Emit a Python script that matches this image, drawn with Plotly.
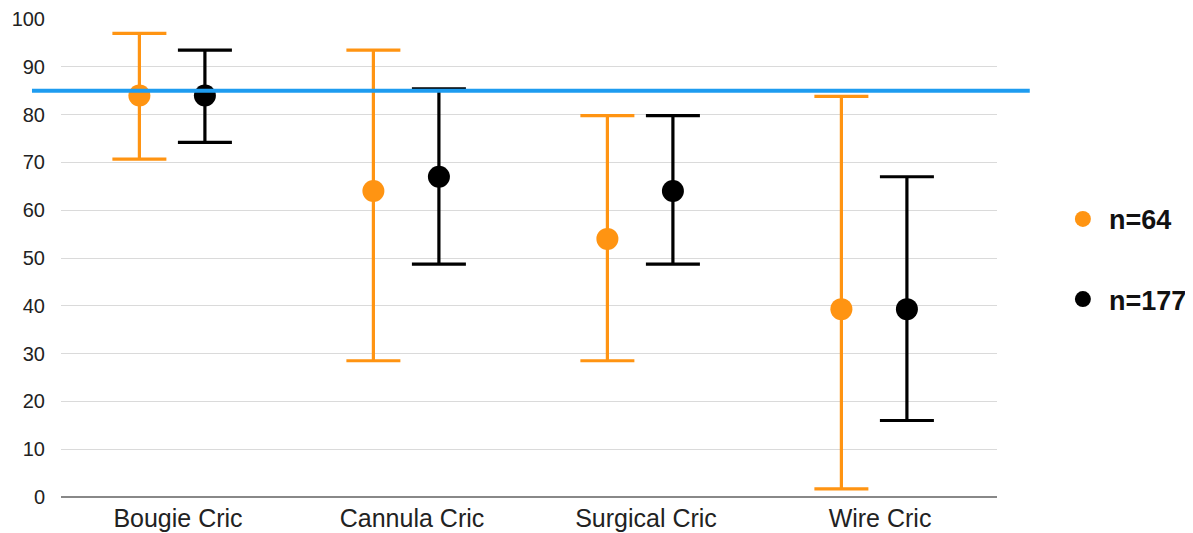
import plotly.graph_objects as go

categories = ["Bougie Cric", "Cannula Cric", "Surgical Cric", "Wire Cric"]
series_names = ["n=64", "n=177"]

mean_64 = [84, 64, 54, 39.3]
upper_64 = [97, 93.5, 79.8, 83.8]
lower_64 = [70.7, 28.5, 28.5, 1.7]

mean_177 = [84, 67, 64, 39.3]
upper_177 = [93.5, 85.4, 79.8, 67]
lower_177 = [74.2, 48.7, 48.7, 16]

reference_value = 85
y_ticks = [0, 10, 20, 30, 40, 50, 60, 70, 80, 90, 100]

ORANGE = "#FF9412"
BLACK = "#000000"
BLUE = "#1E9CF0"

idx = list(range(len(categories)))
fig = go.Figure()

for name, mean, up, lo, color, off in [
    (series_names[0], mean_64, upper_64, lower_64, ORANGE, -0.165),
    (series_names[1], mean_177, upper_177, lower_177, BLACK, 0.115),
]:
    fig.add_trace(go.Scatter(
        x=[i + off for i in idx], y=mean, mode="markers", name=name,
        legendgroup=name,
        marker=dict(color=color, size=22),
        error_y=dict(type="data", symmetric=False,
                     array=[u - m for u, m in zip(up, mean)],
                     arrayminus=[m - l for m, l in zip(mean, lo)],
                     color=color, thickness=3.2, width=27),
    ))

fig.add_shape(type="line", xref="paper", yref="y", x0=-0.031, x1=1.035,
              y0=reference_value, y1=reference_value,
              line=dict(color=BLUE, width=4))

fig.update_layout(
    width=1193, height=533,
    margin=dict(l=53, r=204, t=11, b=44, autoexpand=False),
    paper_bgcolor="white", plot_bgcolor="white",
    font=dict(family="Liberation Sans, Arial, sans-serif", color="#222"),
    showlegend=True,
    legend=dict(x=1.064, y=0.632, xanchor="left", yanchor="top",
                font=dict(size=27, color="#111", family="Liberation Sans, Arial, sans-serif", weight="bold"),
                tracegroupgap=42, itemsizing="trace", itemwidth=42),
    xaxis=dict(range=[-0.5, 3.5], tickvals=idx, ticktext=categories,
               showgrid=False, zeroline=False, showline=False, automargin=False,
               tickfont=dict(size=25, color="#222"), ticks="", ticklabelstandoff=4),
    yaxis=dict(range=[0, 100], tickvals=y_ticks, showgrid=True, automargin=False,
               gridcolor="#DADADA", gridwidth=1.3, zeroline=True,
               zerolinecolor="#888", zerolinewidth=2,
               tickfont=dict(size=20, color="#222"), ticks="",
               ticklabelstandoff=15),
)

fig.write_html("out.html")
